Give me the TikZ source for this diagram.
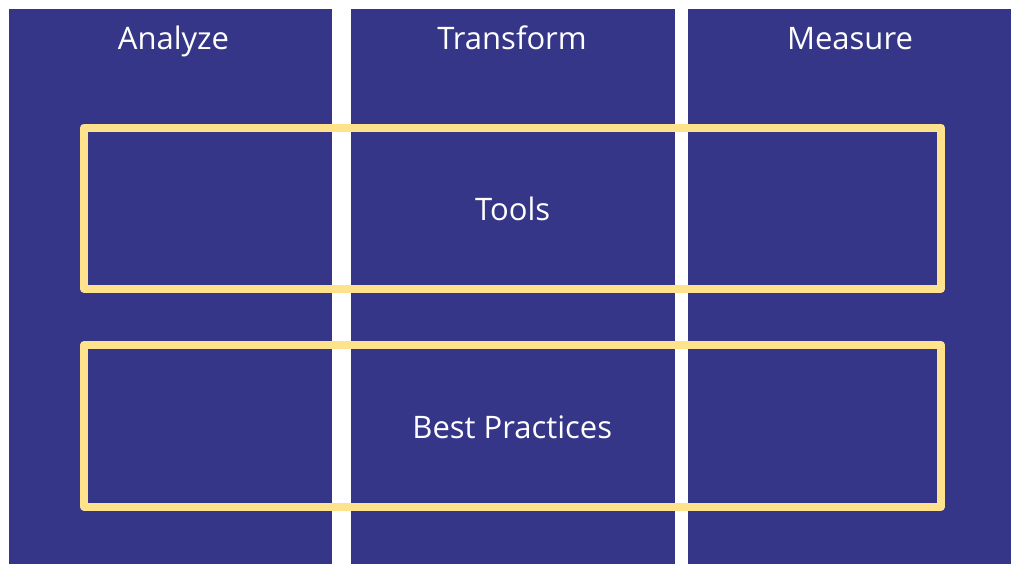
\documentclass[tikz,border=0pt]{standalone}
\usepackage{fontspec}
\setmainfont{Open Sans}
\definecolor{navy}{RGB}{54,54,136}
\definecolor{sand}{RGB}{255,226,140}
\tikzset{
  column/.style={fill=navy, draw=none},
  band/.style={draw=sand, line width=8pt, line join=round},
  heading/.style={text=white, font=\fontsize{31}{34}\selectfont, inner sep=0pt, anchor=base},
}
\begin{document}
\begin{tikzpicture}[x=1pt, y=-1pt]
  % page area
  \fill[white] (0,0) rectangle (1021,576);
  \useasboundingbox (0,0) rectangle (1021,576);

  % three phase columns
  \fill[column] (8.5,9) rectangle (332.3,564);
  \fill[column] (350.7,9) rectangle (674.7,564);
  \fill[column] (687.7,9) rectangle (1011,564);

  \node[heading] (analyze) at (173.5,49) {Analyze};
  \node[heading] (transform) at (512,49) {Transform};
  \node[heading] (measure) at (850,49) {Measure};

  % cross-cutting bands
  \draw[band] (84,127.5) rectangle (941,288.5);
  \draw[band] (84,345) rectangle (941,506.5);

  \node[heading] (tools) at (512.7,220) {Tools};
  \node[heading] (practices) at (512.3,438.5) {Best Practices};
\end{tikzpicture}
\end{document}
